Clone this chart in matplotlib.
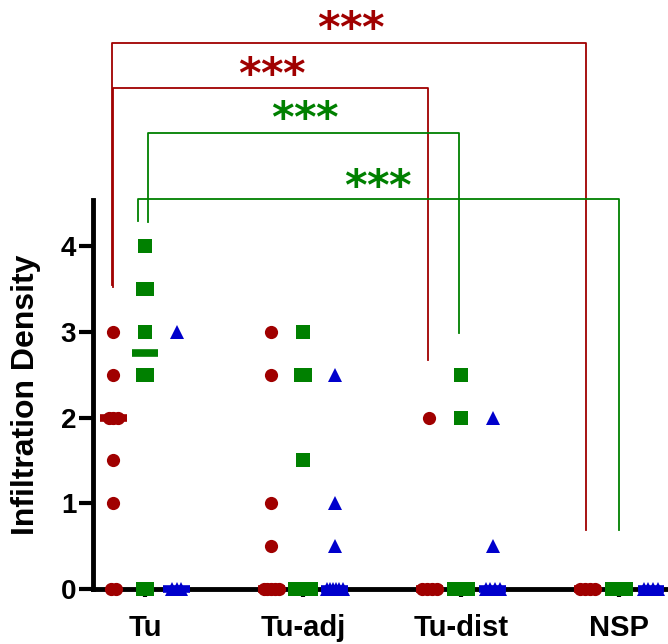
import numpy as np
import matplotlib
matplotlib.use("Agg")
import matplotlib.pyplot as plt

plt.rcParams['font.family'] = ['Liberation Sans', 'DejaVu Sans']
plt.rcParams['font.weight'] = 'bold'

groups = ["Tu", "Tu-adj", "Tu-dist", "NSP"]

# scores per group for the three markers (red circles, green squares, blue triangles)
red_vals = [
    [3, 2.5, 2, 2, 2, 1.5, 1, 0, 0],
    [3, 2.5, 1, 0.5, 0, 0, 0, 0, 0],
    [2, 0, 0, 0, 0],
    [0, 0, 0, 0],
]
green_vals = [
    [4, 3.5, 3.5, 3, 2.5, 2.5, 0, 0],
    [3, 2.5, 2.5, 1.5, 0, 0, 0, 0, 0],
    [2.5, 2, 0, 0, 0, 0],
    [0, 0, 0, 0],
]
blue_vals = [
    [3, 0, 0, 0],
    [2.5, 1, 0.5, 0, 0, 0, 0, 0, 0],
    [2, 0.5, 0, 0, 0, 0],
    [0, 0, 0, 0],
]

# significance brackets: (x1, x2, y_bar, y_left_end, y_right_end, color, label_x, label_y)
brackets = [
    (-0.21, 2.79, 6.37, 3.55, 0.69, "#a00000", 1.3, 6.64),
    (-0.20, 1.79, 5.85, 3.53, 2.67, "#a00000", 0.8, 6.11),
    (0.02, 1.99, 5.32, 4.28, 2.99, "#008000", 1.01, 5.59),
    (-0.045, 3.0, 4.55, 4.30, 0.69, "#008000", 1.47, 4.80),
]

series = [
    (red_vals, -0.2, "o", "#a00000", 9.5),
    (green_vals, 0.0, "s", "#008000", 9.5),
    (blue_vals, 0.2, "^", "#0000cc", 10),
]


def spread(vals, step=0.03, maxw=0.05):
    # small horizontal offsets for points sharing a value
    vals = np.array(vals, dtype=float)
    offs = np.zeros(len(vals))
    for v in np.unique(vals):
        idx = np.where(vals == v)[0]
        n = len(idx)
        if n > 1:
            s = min(step, 2 * maxw / (n - 1))
            offs[idx] = (np.arange(n) - (n - 1) / 2) * s
    return offs


fig = plt.figure(figsize=(6.68, 6.44), dpi=100)
ax = fig.add_axes([0.139, 0.0854, 0.861, 0.604])

for vals_list, dx, mk, col, ms in series:
    for gi, vals in enumerate(vals_list):
        offs = spread(vals)
        xs = gi + dx + offs
        ax.plot(xs, vals, linestyle="none", marker=mk, color=col, markersize=ms,
                markeredgewidth=0, clip_on=False, zorder=4)
        med = np.median(vals)
        ax.plot([gi + dx - 0.083, gi + dx + 0.083], [med, med], color=col,
                linewidth=5.5, solid_capstyle="butt", clip_on=False, zorder=5)

for x1, x2, yb, yl, yr, col, tx, ty in brackets:
    ax.plot([x1, x1, x2, x2], [yl, yb, yb, yr], color=col, linewidth=1.3,
            clip_on=False, zorder=3)
    for k in (-1, 0, 1):
        ax.text(tx + k * 0.139, ty - 0.12, "*", color=col, fontsize=31,
                fontweight="bold", family="DejaVu Sans",
                ha="center", va="center", clip_on=False)

ax.set_xlim(-0.33, 3.31)
ax.set_ylim(0, 4.54)
ax.set_yticks([0, 1, 2, 3, 4])
ax.set_xticks(range(len(groups)))
ax.set_xticklabels(groups)
ax.tick_params(axis="y", length=10, width=3, labelsize=20, pad=2)
ax.tick_params(axis="x", length=6, width=3, labelsize=21, pad=12)
for lab in ax.get_xticklabels() + ax.get_yticklabels():
    lab.set_fontweight("bold")
ax.set_ylabel("Infiltration Density", fontsize=23, fontweight="bold")
ax.yaxis.set_label_coords(-0.09, 0.5)

ax.spines["top"].set_visible(False)
ax.spines["right"].set_visible(False)
ax.spines["left"].set_linewidth(3.5)
ax.spines["bottom"].set_linewidth(3.5)

fig.savefig("out.png", dpi=100)
